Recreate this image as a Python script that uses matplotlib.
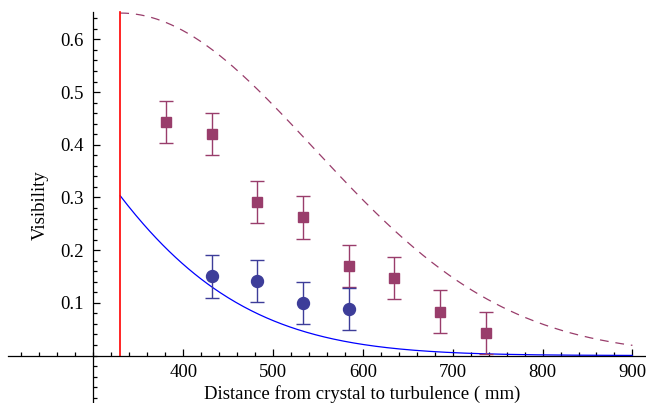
import numpy as np
import matplotlib
matplotlib.use("Agg")
import matplotlib.pyplot as plt
from matplotlib.ticker import FixedLocator, MultipleLocator

plt.rcParams['font.family'] = ['Liberation Serif', 'DejaVu Serif']

# measured visibilities (mm, visibility, error)
sq_x = [381, 432, 482, 533, 584, 635, 686, 737]
sq_y = [0.443, 0.420, 0.291, 0.262, 0.170, 0.147, 0.083, 0.042]
sq_err = [0.04, 0.04, 0.04, 0.04, 0.04, 0.04, 0.041, 0.04]

ci_x = [432, 482, 533, 584]
ci_y = [0.150, 0.141, 0.099, 0.088]
ci_err = [0.04, 0.04, 0.04, 0.04]

# theory curves, gaussian parameters
x_start = 330
x_end = 900
upper_peak, upper_center, upper_width = 0.65, 330, 304
lower_peak, lower_center, lower_width = 0.303, -57, 325

xticks = [400, 500, 600, 700, 800, 900]
yticks = [0.1, 0.2, 0.3, 0.4, 0.5, 0.6]

purple = '#993d6b'
navy = '#3d3d99'

fig = plt.figure(figsize=(6.46, 4.03), dpi=100)
ax = fig.add_axes([8 / 646, 0, 637 / 646, 391 / 403])

d = np.linspace(x_start, x_end, 400)
upper = upper_peak * np.exp(-((d - upper_center) / upper_width) ** 2)
lower = lower_peak * np.exp(-((d - lower_center) / lower_width) ** 2) \
    / np.exp(-((x_start - lower_center) / lower_width) ** 2)

ax.plot(d, upper, color=purple, lw=0.9, dashes=(7, 5.5))
ax.plot(d, lower, color='#0000ff', lw=0.9)
ax.plot([x_start, x_start], [0, 0.652], color='#ff0000', lw=1.2, clip_on=False)

ax.errorbar(sq_x, sq_y, yerr=sq_err, fmt='s', color=purple, ms=7.2,
            capsize=5, elinewidth=1, capthick=1, zorder=4)
ax.errorbar(ci_x, ci_y, yerr=ci_err, fmt='o', color=navy, ms=8.6,
            capsize=5, elinewidth=1, capthick=1, zorder=4)

ax.set_xlim(205, 914)
ax.set_ylim(-0.0901, 0.652)

ax.spines['left'].set_position(('data', 300))
ax.spines['bottom'].set_position(('data', 0))
ax.spines['top'].set_visible(False)
ax.spines['right'].set_visible(False)
for s in ('left', 'bottom'):
    ax.spines[s].set_linewidth(0.9)

ax.xaxis.set_major_locator(FixedLocator(xticks))
ax.xaxis.set_minor_locator(MultipleLocator(20))
ax.yaxis.set_major_locator(FixedLocator(yticks))
ax.yaxis.set_minor_locator(MultipleLocator(0.02))
ax.set_xticklabels([str(t) for t in xticks])
ax.set_yticklabels([f'{t:.1f}' for t in yticks])

ax.tick_params(which='both', direction='in', labelsize=13.5, width=0.9)
ax.tick_params(which='major', length=5)
ax.tick_params(which='minor', length=3)
ax.tick_params(axis='x', pad=6)
ax.tick_params(axis='y', pad=7)

fig.text(362 / 646, 1 - 394 / 403, 'Distance from crystal to turbulence ( mm)',
         fontsize=13.5, ha='center', va='center')
fig.text(40 / 646, 1 - 205 / 403, 'Visibility', fontsize=13.5, rotation=90,
         ha='center', va='center')

fig.savefig('out.png', dpi=100)
